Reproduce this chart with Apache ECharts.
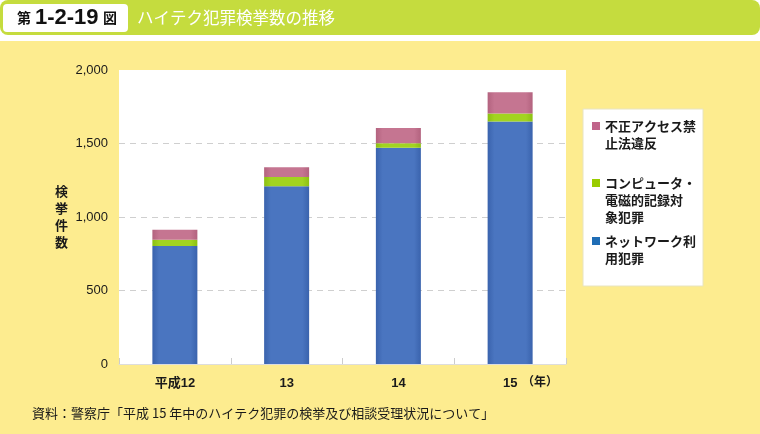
<!DOCTYPE html>
<html>
<head>
<meta charset="utf-8">
<script src="https://cdn.jsdelivr.net/npm/echarts@6/dist/echarts.min.js"></script>
<style>
  html, body { margin: 0; padding: 0; background: #fff; }
  #chart { width: 760px; height: 434px; }
</style>
</head>
<body>
<div id="chart"></div>
<script>
// 年ごとのハイテク犯罪検挙件数
var years = ["平成12", "13", "14", "15"];
var network = [802, 1209, 1471, 1649];    // ネットワーク利用犯罪
var computer = [44, 63, 30, 55];          // コンピュータ・電磁的記録対象犯罪
var unauthorized = [67, 67, 105, 145];    // 不正アクセス禁止法違反
var seriesNames = ["ネットワーク利用犯罪", "コンピュータ・電磁的記録対象犯罪", "不正アクセス禁止法違反"];
var legendLines = [
  ["不正アクセス禁", "止法違反"],
  ["コンピュータ・", "電磁的記録対", "象犯罪"],
  ["ネットワーク利", "用犯罪"]
];
var yTicks = [0, 500, 1000, 1500, 2000];

var colors = {
  blue: ["#3a63ad", "#4a75c0", "#3a63ad"],
  green: ["#8cc012", "#a2d420", "#8cc012"],
  pink: ["#b3637f", "#c57591", "#b3637f"]
};
var legendColors = ["#c0648a", "#99cc00", "#1f6db5"];

function grad(c) {
  return new echarts.graphic.LinearGradient(0, 0, 1, 0, [
    { offset: 0, color: c[0] },
    { offset: 0.15, color: c[1] },
    { offset: 0.85, color: c[1] },
    { offset: 1, color: c[2] }
  ]);
}

var font = "'Liberation Sans', 'Noto Sans CJK JP', sans-serif";
var chart = echarts.init(document.getElementById("chart"));

// 凡例（白枠内に手で配置）
var legendGraphics = [{
  type: "rect",
  shape: { x: 583, y: 109, width: 120, height: 177 },
  style: { fill: "#fff", stroke: "#e8e4c0", lineWidth: 1 }
}];
var legendTops = [126, 183, 241];
legendLines.forEach(function (lines, i) {
  legendGraphics.push({
    type: "rect",
    shape: { x: 592, y: legendTops[i] - 4, width: 8, height: 8 },
    style: { fill: legendColors[i] }
  });
  legendGraphics.push({
    type: "text",
    x: 605,
    y: legendTops[i] - 8.5,
    style: {
      text: lines.join("\n"),
      font: "bold 13px 'Noto Sans CJK JP'",
      lineHeight: 17,
      fill: "#1a1a1a",
      verticalAlign: "top"
    }
  });
});

var options = {
  animation: false,
  backgroundColor: "#fff",
  grid: {
    left: 119,
    top: 70,
    width: 447,
    height: 294,
    show: true,
    backgroundColor: "#fff",
    borderWidth: 0
  },
  graphic: [
    // 黄色の背景
    { type: "rect", z: -10, shape: { x: 0, y: 41, width: 760, height: 393 }, style: { fill: "#fdec8f" } },
    // 見出し
    { type: "rect", z: -10, shape: { x: 0, y: 0, width: 760, height: 35, r: 8 }, style: { fill: "#c5dc3e" } },
    { type: "rect", z: -9, shape: { x: 3, y: 4, width: 125, height: 28, r: 4 }, style: { fill: "#fff" } },
    { type: "text", x: 17, y: 18, style: { text: "第", font: "bold 14px 'Noto Sans CJK JP'", fill: "#111", verticalAlign: "middle" } },
    { type: "text", x: 35, y: 18, style: { text: "1-2-19", font: "bold 22px 'Liberation Sans'", fill: "#111", verticalAlign: "middle" } },
    { type: "text", x: 103, y: 18, style: { text: "図", font: "bold 14px 'Noto Sans CJK JP'", fill: "#111", verticalAlign: "middle" } },
    { type: "text", x: 137, y: 18, style: { text: "ハイテク犯罪検挙数の推移", font: "16.5px 'Noto Sans CJK JP'", fill: "#fff", verticalAlign: "middle" } },
    // 年
    { type: "text", x: 540, y: 381, style: { text: "（年）", font: "bold 12px 'Noto Sans CJK JP'", fill: "#1a1a1a", align: "center", verticalAlign: "middle" } },
    // 出典
    { type: "text", x: 32, y: 413, style: { text: "資料：警察庁「平成 15 年中のハイテク犯罪の検挙及び相談受理状況について」", font: "13px 'Noto Sans CJK JP'", fill: "#1a1a1a", verticalAlign: "middle" } }
  ].concat(legendGraphics),
  xAxis: {
    type: "category",
    data: years,
    axisLine: { show: true, lineStyle: { color: "#dddddd" } },
    axisTick: { show: true, inside: true, length: 6, lineStyle: { color: "#cccccc" } },
    axisLabel: {
      margin: 13,
      fontFamily: font,
      fontSize: 13,
      fontWeight: "bold",
      color: "#1a1a1a"
    }
  },
  yAxis: {
    type: "value",
    min: yTicks[0],
    max: yTicks[yTicks.length - 1],
    interval: 500,
    name: "検\n挙\n件\n数",
    nameLocation: "middle",
    nameRotate: 0,
    nameGap: 51,
    nameTextStyle: {
      fontFamily: "'Noto Sans CJK JP'",
      fontSize: 13,
      fontWeight: "bold",
      lineHeight: 17,
      color: "#1a1a1a",
      padding: [0, 0, 20, 0]
    },
    axisLine: { show: false },
    axisTick: { show: false },
    axisLabel: {
      margin: 11,
      fontFamily: font,
      fontSize: 13,
      color: "#1a1a1a",
      formatter: function (v) { return v.toLocaleString("en-US"); }
    },
    splitLine: {
      show: true,
      // 上端（2,000）の線は描かない
      lineStyle: {
        color: ["#cfcfcf", "#cfcfcf", "#cfcfcf", "#cfcfcf", "rgba(0,0,0,0)"],
        type: [6, 5],
        width: 1
      }
    }
  },
  series: [
    {
      name: seriesNames[0],
      type: "bar",
      stack: "total",
      barWidth: 45,
      data: network,
      itemStyle: { color: grad(colors.blue) }
    },
    {
      name: seriesNames[1],
      type: "bar",
      stack: "total",
      barWidth: 45,
      data: computer,
      itemStyle: { color: grad(colors.green) }
    },
    {
      name: seriesNames[2],
      type: "bar",
      stack: "total",
      barWidth: 45,
      data: unauthorized,
      itemStyle: { color: grad(colors.pink) }
    }
  ]
};

chart.setOption(options);
</script>
</body>
</html>
